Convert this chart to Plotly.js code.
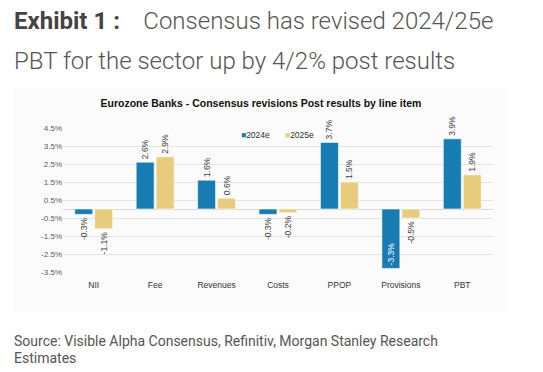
<!DOCTYPE html>
<html>
<head>
<meta charset="utf-8">
<script src="https://cdn.plot.ly/plotly-3.0.1.min.js"></script>
<style>
  html, body { margin:0; padding:0; background:#ffffff; width:543px; height:372px; overflow:hidden; }
  #head { position:absolute; left:14px; top:1px; font-family:Roboto, "Open Sans", sans-serif; font-size:24px; line-height:40px; font-weight:300; color:#555555; white-space:nowrap; }
  #head b { font-weight:700; color:#444444; }
  #chart { position:absolute; left:14px; top:88px; width:494px; height:224px; }
  #src { position:absolute; left:14px; top:333px; font-family:Roboto, "Open Sans", sans-serif; font-size:14px; line-height:17px; font-weight:400; color:#555555; white-space:nowrap; }
</style>
</head>
<body>
<div id="head"><b>Exhibit 1 :</b>&nbsp;&nbsp;&nbsp;&nbsp;Consensus has revised 2024/25e<br>PBT for the sector up by 4/2% post results</div>
<div id="chart"></div>
<div id="src">Source: Visible Alpha Consensus, Refinitiv, Morgan Stanley Research<br>Estimates</div>
<script>
const categories = ['NII','Fee','Revenues','Costs','PPOP','Provisions','PBT'];
const series2024 = [-0.3, 2.6, 1.6, -0.3, 3.7, -3.3, 3.9];
const series2025 = [-1.1, 2.9, 0.6, -0.2, 1.5, -0.5, 1.9];
const seriesNames = ['2024e','2025e'];
const seriesColors = ['#177CB1','#E8CC7E'];
const tickValues = [-3.5,-2.5,-1.5,-0.5,0.5,1.5,2.5,3.5,4.5];

const fmt = v => v.toFixed(1) + '%';
const tickText = tickValues.map(fmt);
const lblFont = 'Arial, Liberation Sans, sans-serif';

function barTrace(name, vals, color) {
  return {
    type:'bar', name:name, x:categories, y:vals,
    marker:{color:color, line:{color:'rgba(255,255,255,0.6)', width:1}},
    text: vals.map(fmt),
    textposition: vals.map(v => v < -2 ? 'inside' : 'outside'),
    insidetextanchor:'end',
    textangle:-90,
    constraintext:'none',
    cliponaxis:false,
    outsidetextfont:{family:lblFont, size:8.5, color:'#404040'},
    insidetextfont:{family:lblFont, size:8.5, color:'#ffffff'},
    hoverinfo:'skip',
    showlegend:false
  };
}

const data = [
  barTrace(seriesNames[0], series2024, seriesColors[0]),
  barTrace(seriesNames[1], series2025, seriesColors[1])
];

const legendX = [0.409, 0.512];
const legendAnn = seriesNames.map((n, i) => ({
  xref:'paper', yref:'paper', x:legendX[i], y:0.949, xanchor:'left', yanchor:'middle',
  showarrow:false,
  text:'<span style="color:' + seriesColors[i] + '">■</span>' + n,
  font:{family:lblFont, size:8.5, color:'#333333'}
}));

const layout = {
  width:494, height:224,
  margin:{l:49, r:15, t:40, b:40},
  paper_bgcolor:'#fbfbfb', plot_bgcolor:'#fbfbfb',
  barmode:'group', bargap:0.35, bargroupgap:0.1,
  title:{text:'<b>Eurozone Banks - Consensus revisions Post results by line item</b>',
    font:{family:lblFont, size:10.5, color:'#111111'},
    x:0.5, xanchor:'center', y:0.93, yanchor:'middle', yref:'container'},
  showlegend:false,
  annotations: legendAnn,
  xaxis:{type:'category', showgrid:false, showline:false, ticks:'outside', ticklen:5, tickcolor:'rgba(0,0,0,0)',
    tickfont:{family:lblFont, size:8.5, color:'#333333'}},
  yaxis:{range:[-3.5,4.5], tickvals:tickValues, ticktext:tickText,
    showgrid:true, gridcolor:'#e3e3e3', gridwidth:1,
    zeroline:true, zerolinecolor:'#d9d9d9', zerolinewidth:1,
    showline:false, ticks:'', ticklen:0,
    tickfont:{family:lblFont, size:8, color:'#595959'}},
  font:{family:lblFont}
};

Plotly.newPlot('chart', data, layout, {staticPlot:true, displayModeBar:false});
</script>
</body>
</html>
